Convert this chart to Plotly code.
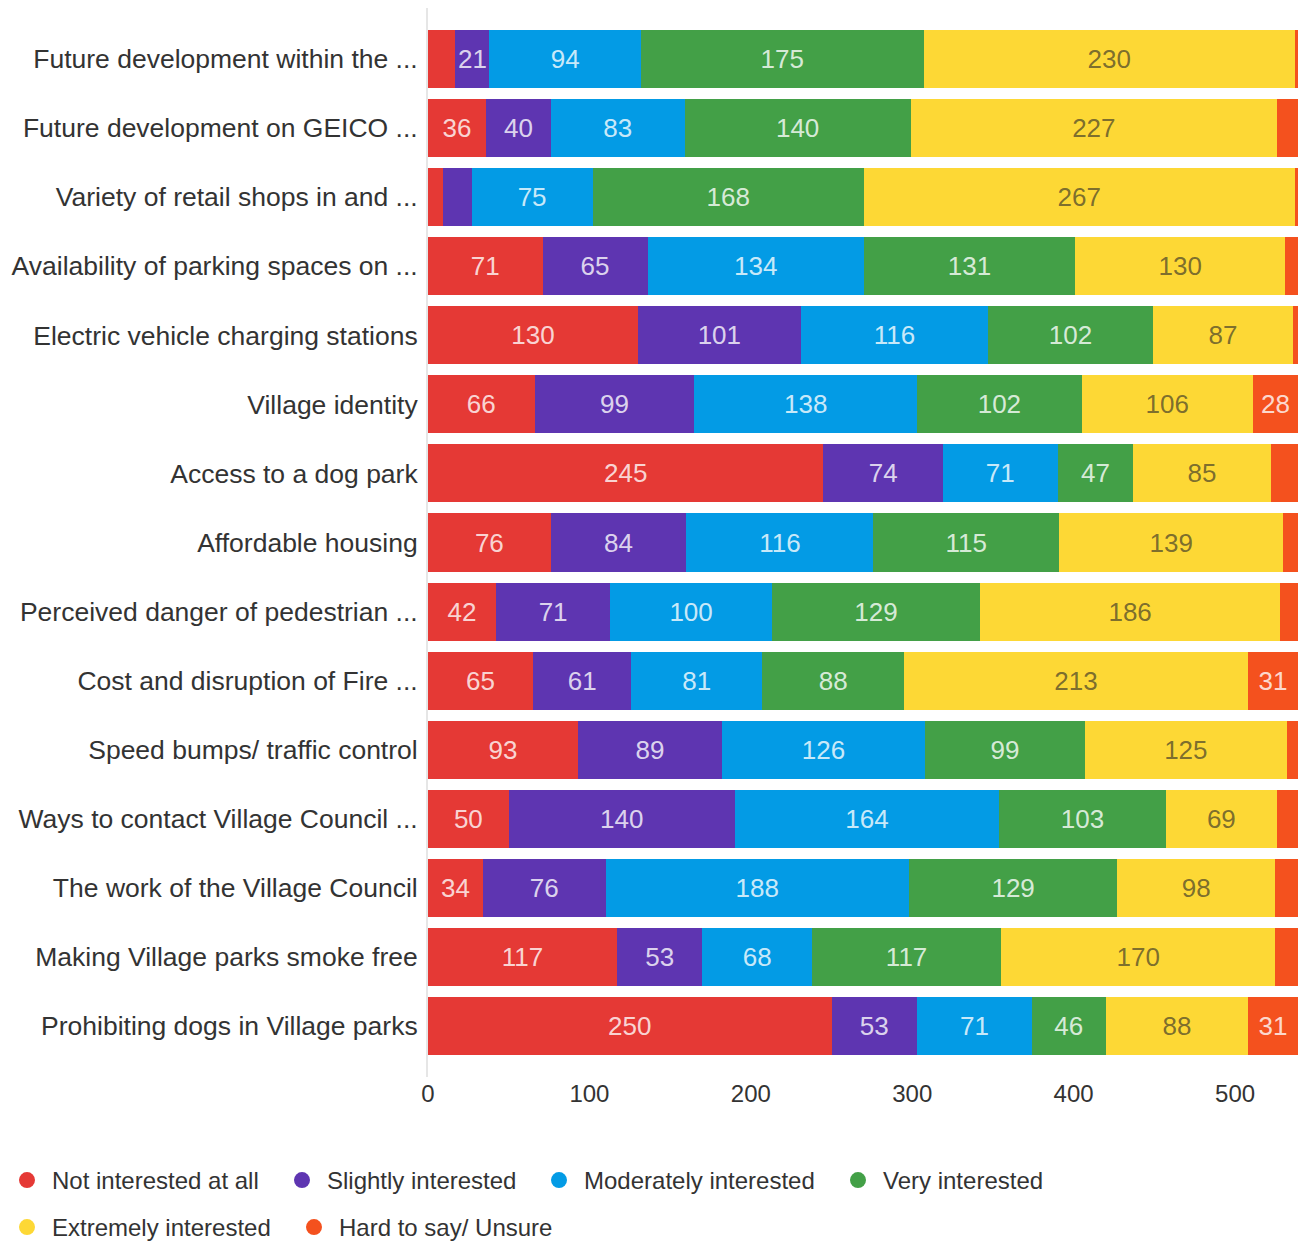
import plotly.graph_objects as go

categories = [
    "Future development within the ...",
    "Future development on GEICO ...",
    "Variety of retail shops in and ...",
    "Availability of parking spaces on ...",
    "Electric vehicle charging stations",
    "Village identity",
    "Access to a dog park",
    "Affordable housing",
    "Perceived danger of pedestrian ...",
    "Cost and disruption of Fire ...",
    "Speed bumps/ traffic control",
    "Ways to contact Village Council ...",
    "The work of the Village Council",
    "Making Village parks smoke free",
    "Prohibiting dogs in Village parks",
]

not_interested = [17, 36, 9, 71, 130, 66, 245, 76, 42, 65, 93, 50, 34, 117, 250]
slightly = [21, 40, 18, 65, 101, 99, 74, 84, 71, 61, 89, 140, 76, 53, 53]
moderately = [94, 83, 75, 134, 116, 138, 71, 116, 100, 81, 126, 164, 188, 68, 71]
very = [175, 140, 168, 131, 102, 102, 47, 115, 129, 88, 99, 103, 129, 117, 46]
extremely = [230, 227, 267, 130, 87, 106, 85, 139, 186, 213, 125, 69, 98, 170, 88]
unsure = [2, 13, 2, 8, 3, 28, 17, 9, 11, 31, 7, 13, 14, 14, 31]

series_names = ["Not interested at all", "Slightly interested", "Moderately interested",
                "Very interested", "Extremely interested", "Hard to say/ Unsure"]
series_values = [not_interested, slightly, moderately, very, extremely, unsure]
colors = ["#E53935", "#5E35B1", "#039BE5", "#43A047", "#FDD835", "#F4511E"]
text_colors = ["rgba(255,255,255,0.8)"] * 4 + ["rgba(40,40,40,0.62)", "rgba(255,255,255,0.8)"]

# legend entry placement (left edge px, top px) in the 1301x1241 canvas
legend_ids = ["legend", "legend2", "legend3", "legend4", "legend5", "legend6"]
legend_left_px = [2, 277, 534, 833, 2, 289]
legend_top_px = [1158, 1158, 1158, 1158, 1205, 1205]

FONT = "Liberation Sans, Arial, sans-serif"
W, H = 1301, 1241

fig = go.Figure()
for name, vals, col, tcol in zip(series_names, series_values, colors, text_colors):
    fig.add_trace(go.Bar(
        y=categories, x=vals, orientation="h", name=name,
        marker=dict(color=col, line=dict(width=0)),
        text=[str(v) if v >= 20 else "" for v in vals],
        textposition="inside", insidetextanchor="middle",
        textangle=0, constraintext="none",
        textfont=dict(family=FONT, size=26, color=tcol),
        showlegend=False, hoverinfo="skip",
    ))
for name, col, lg in zip(series_names, colors, legend_ids):
    fig.add_trace(go.Scatter(
        x=[None], y=[None], mode="markers", name=name,
        marker=dict(color=col, size=16, symbol="circle"),
        showlegend=True, legend=lg,
    ))

legend_font = dict(family=FONT, size=24, color="#333333")
legend_layout = {}
for lg, lx, ty in zip(legend_ids, legend_left_px, legend_top_px):
    legend_layout[lg] = dict(
        orientation="h", xref="container", yref="container",
        x=lx / W, xanchor="left", y=1 - ty / H, yanchor="top",
        font=legend_font, itemsizing="trace", itemwidth=40,
        bgcolor="rgba(0,0,0,0)",
    )

fig.update_layout(
    width=W, height=H,
    margin=dict(l=428, r=3, t=8, b=164),
    barmode="stack", bargap=0.16,
    plot_bgcolor="white", paper_bgcolor="white",
    font=dict(family=FONT, color="#333333"),
    xaxis=dict(range=[0, 539], showgrid=False, zeroline=False, showline=False,
               tickvals=[0, 100, 200, 300, 400, 500],
               ticks="", ticklabelstandoff=0,
               tickfont=dict(family=FONT, size=24, color="#333333")),
    yaxis=dict(categoryorder="array", categoryarray=categories,
               range=[14.738, -0.738], showgrid=False, zeroline=False,
               showline=True, linecolor="#e6e6e6", linewidth=2,
               ticks="", ticklabelstandoff=3, automargin=False,
               tickfont=dict(family=FONT, size=26.5, color="#333333")),
    **legend_layout,
)

fig.write_html(
    "out.html",
    config={"displayModeBar": False},
    post_script="document.body.style.margin='0';"
                "document.documentElement.style.overflow='hidden';"
                "document.body.style.overflow='hidden';",
)
